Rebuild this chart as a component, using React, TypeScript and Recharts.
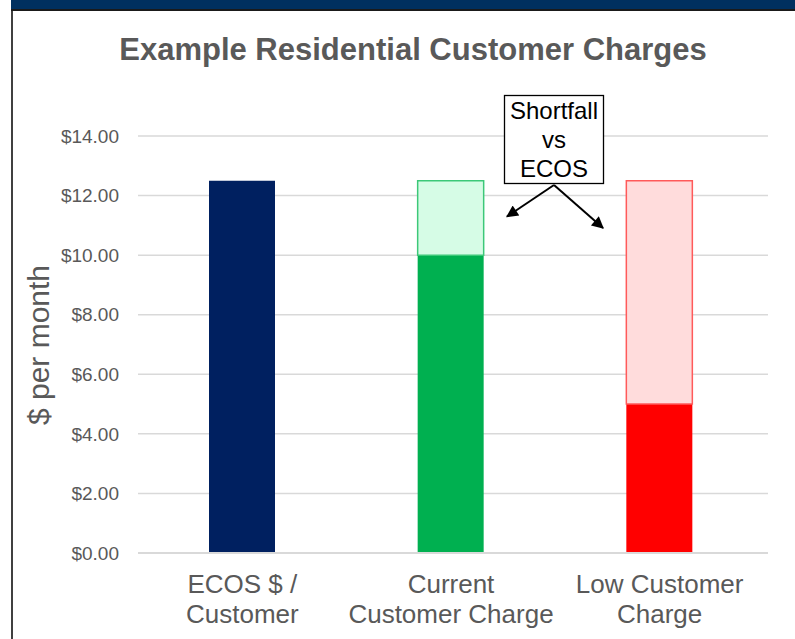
import React from "react";
import { BarChart, Bar, XAxis, YAxis, CartesianGrid, Cell } from "recharts";

// ─── Data ─────────────────────────────────────────────────────────────────────
const categories = ["ECOS $ /\nCustomer", "Current\nCustomer Charge", "Low Customer\nCharge"];
const chargeValues = [12.5, 10, 5];
const shortfallValues = [0, 2.5, 7.5];
const yTicks = [0, 2, 4, 6, 8, 10, 12, 14];

const data = categories.map((name, i) => ({
  name,
  charge: chargeValues[i],
  shortfall: shortfallValues[i],
}));

// ─── Styles ───────────────────────────────────────────────────────────────────
const FONT = "'Liberation Sans', Arial, Helvetica, sans-serif";
const GREY = "#595959";
const chargeColors = ["#002060", "#00b050", "#ff0000"];
const shortfallFills = ["none", "#d6fce6", "#ffdcdc"];
const shortfallStrokes = ["none", "#3cc878", "#ff5a5a"];

const CategoryTick = (props: any) => {
  const { x, y, payload } = props;
  const lines = String(payload.value).split("\n");
  return (
    <text x={x} y={y} textAnchor="middle" fill={GREY} fontSize={26} fontFamily={FONT}>
      {lines.map((l, i) => (
        <tspan key={i} x={x} dy={i === 0 ? 40 : 30}>{l}</tspan>
      ))}
    </text>
  );
};

export default function App() {
  return (
    <div style={{ position: "absolute", left: 0, top: 0, width: 795, height: 639, background: "#fff", overflow: "hidden", fontFamily: FONT }}>
      {/* header strip + frame */}
      <div style={{ position: "absolute", left: 11, top: 0, right: 0, height: 9, background: "#00305f", borderBottom: "2px solid #1a1a1a" }} />
      <div style={{ position: "absolute", left: 11, top: 11, width: 2, bottom: 0, background: "#404040" }} />

      <div style={{ position: "absolute", left: 0, top: 0 }}>
        <BarChart
          width={795}
          height={639}
          data={data}
          margin={{ top: 136, right: 27, left: 0, bottom: 0 }}
          barSize={66}
        >
          <CartesianGrid vertical={false} stroke="#d9d9d9" strokeWidth={1.5} />
          <XAxis
            dataKey="name"
            height={86}
            tick={<CategoryTick />}
            tickLine={false}
            tickSize={0}
            tickMargin={0}
            axisLine={{ stroke: "#d9d9d9", strokeWidth: 2 }}
            padding={{ left: 0, right: 4 }}
            interval={0}
          />
          <YAxis
            width={138}
            domain={[0, 14]}
            ticks={yTicks}
            tickFormatter={(v: number) => `$${v.toFixed(2)}`}
            tick={{ fill: GREY, fontSize: 19, fontFamily: FONT }}
            axisLine={false}
            tickLine={false}
            tickSize={0}
            tickMargin={19}
          />
          <Bar dataKey="charge" stackId="a" isAnimationActive={false}>
            {data.map((d, i) => (
              <Cell key={d.name} fill={chargeColors[i]} />
            ))}
          </Bar>
          <Bar dataKey="shortfall" stackId="a" isAnimationActive={false}>
            {data.map((d, i) => (
              <Cell key={d.name} fill={shortfallFills[i]} stroke={shortfallStrokes[i]} strokeWidth={1.5} />
            ))}
          </Bar>
        </BarChart>
      </div>

      {/* title, axis label, annotation */}
      <svg width={795} height={639} style={{ position: "absolute", left: 0, top: 0, pointerEvents: "none" }}>
        <defs>
          <marker id="arrow" viewBox="0 0 10 10" refX="9" refY="5" markerWidth="7" markerHeight="6" orient="auto">
            <path d="M0,0 L10,5 L0,10 z" fill="#000" />
          </marker>
        </defs>
        <text x={413} y={60} textAnchor="middle" fill={GREY} fontSize={31} fontWeight="bold" fontFamily={FONT}>
          Example Residential Customer Charges
        </text>
        <text transform="translate(49,345) rotate(-90)" textAnchor="middle" fill={GREY} fontSize={30} fontFamily={FONT}>
          $ per month
        </text>
        <rect x={504.5} y={95.5} width={99} height={88} fill="#fff" stroke="#000" strokeWidth={1.3} />
        <text x={554} textAnchor="middle" fill="#000" fontSize={24} fontFamily={FONT}>
          <tspan x={554} y={119}>Shortfall</tspan>
          <tspan x={554} y={148}>vs</tspan>
          <tspan x={554} y={177}>ECOS</tspan>
        </text>
        <line x1={554} y1={185} x2={507} y2={216.5} stroke="#000" strokeWidth={2} markerEnd="url(#arrow)" />
        <line x1={554} y1={185} x2={603} y2={228} stroke="#000" strokeWidth={2} markerEnd="url(#arrow)" />
      </svg>
    </div>
  );
}
